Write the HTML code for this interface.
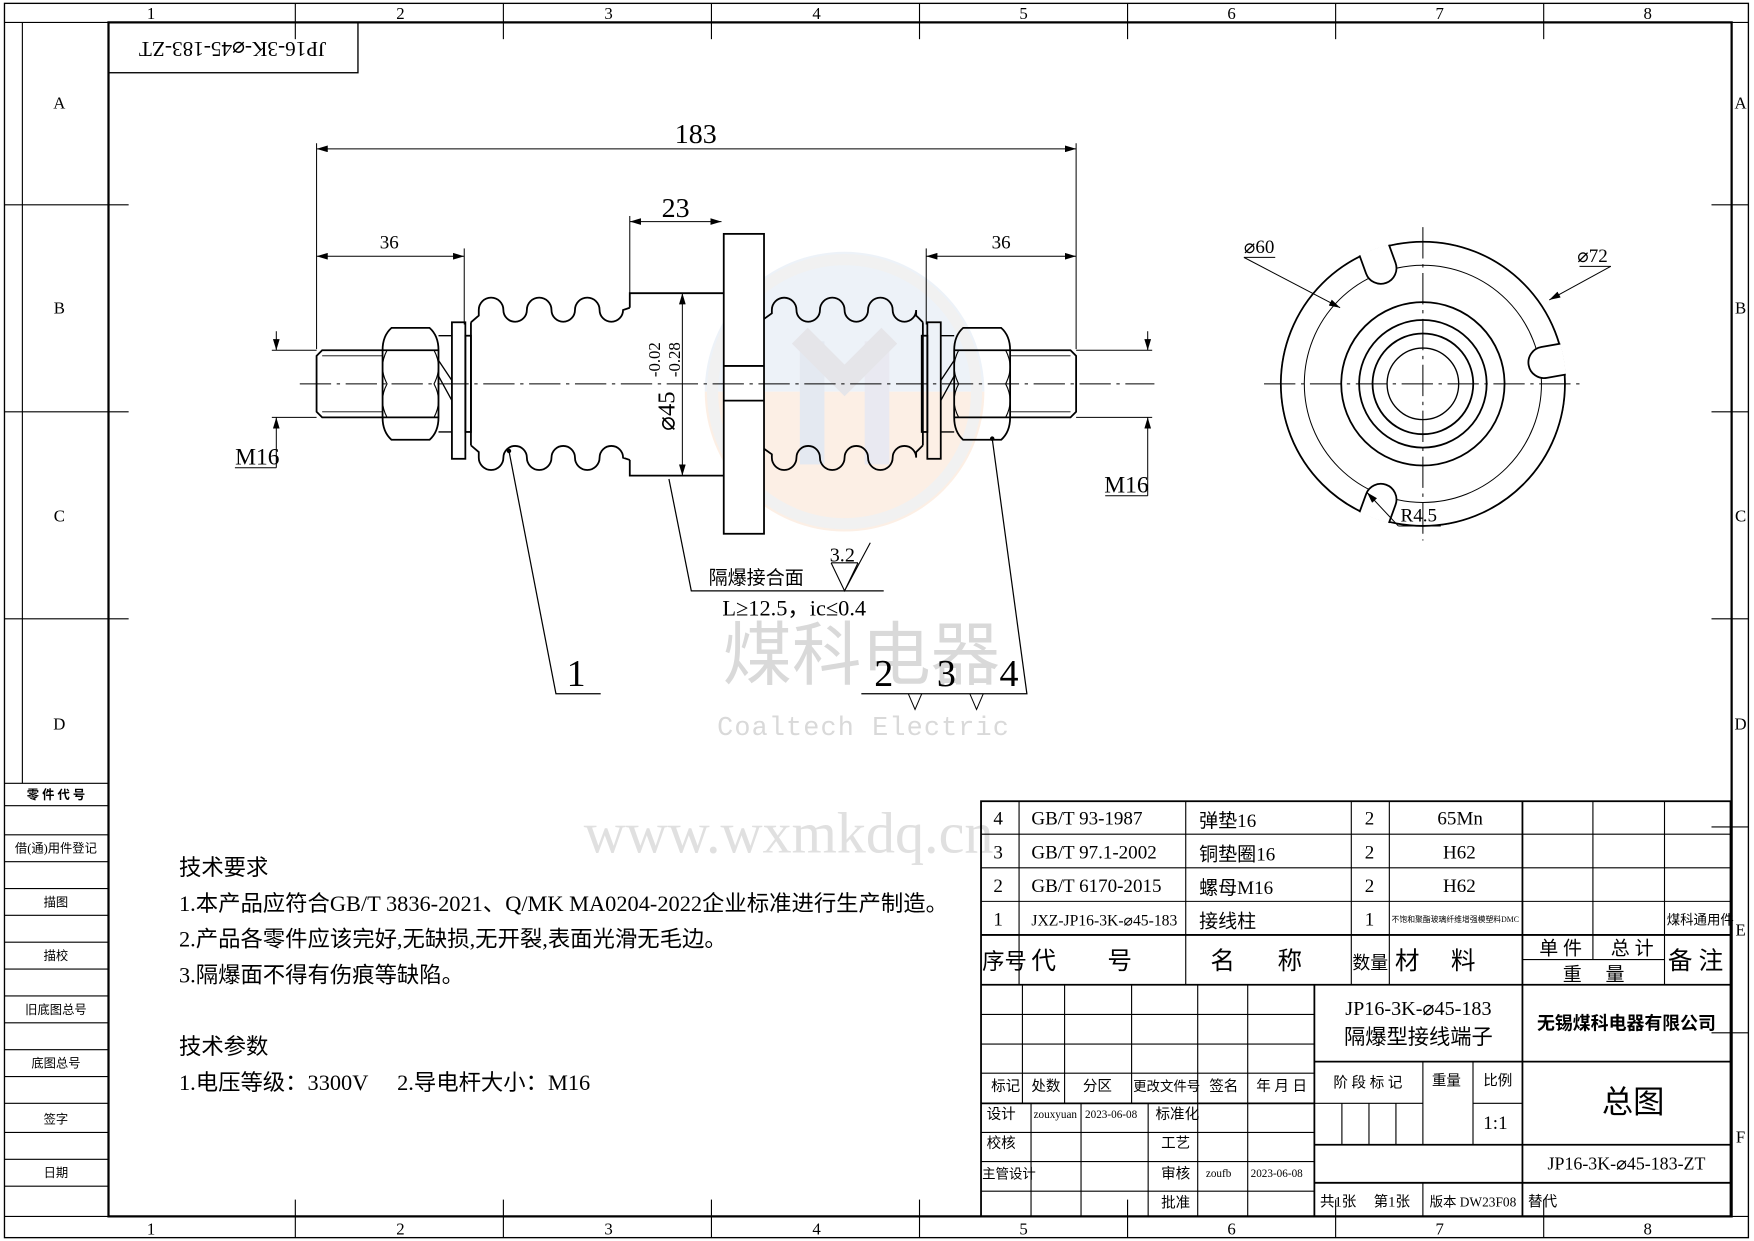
<!DOCTYPE html>
<html><head><meta charset="utf-8"><style>
html,body{margin:0;padding:0;background:#fff;}
svg{display:block;}
text{font-family:"Liberation Serif","Noto Sans CJK SC",serif;fill:#000;}
</style></head><body>
<svg width="1754" height="1241" viewBox="0 0 1568 1109" preserveAspectRatio="none" xmlns="http://www.w3.org/2000/svg">
<defs>
<marker id="a" viewBox="0 0 10 6" refX="10" refY="3" markerWidth="10" markerHeight="6" orient="auto-start-reverse" markerUnits="userSpaceOnUse"><path d="M0,0 L10,3 L0,6 z" fill="#000"/></marker>
<clipPath id="outer"><circle cx="1272" cy="343" r="128"/></clipPath>
</defs>
<rect width="1568" height="1109" fill="#fff"/>

<!-- watermark -->
<g opacity="0.55">
<path d="M630,350 A125,125 0 0 1 880,350 Z" fill="#dfe8f3"/>
<path d="M630,350 A125,125 0 0 0 880,350 Z" fill="#fbe3d0"/>
<circle cx="755" cy="350" r="118" fill="none" stroke="#e6e6e6" stroke-width="10"/>
<rect x="715" y="305" width="22" height="110" fill="#cfd8e6"/>
<rect x="773" y="305" width="22" height="110" fill="#d8d8e6"/>
<path d="M715,300 L755,340 L795,300" fill="none" stroke="#d0d0d8" stroke-width="20"/>
</g>
<text x="770" y="607" font-size="62" text-anchor="middle" style="fill:#d9d9d9;font-family:'Noto Sans CJK SC',sans-serif">煤科电器</text>
<text x="772" y="657" font-size="24" text-anchor="middle" letter-spacing="1" style="fill:#d9d9d9;font-family:'Liberation Mono',monospace">Coaltech Electric</text>
<text x="705" y="762" font-size="52" text-anchor="middle" style="fill:#e0e0e0">www.wxmkdq.cn</text>

<!-- frame -->
<g stroke="#000" fill="none">
<rect x="4" y="3" width="1559" height="1103" stroke-width="1.2"/>
<rect x="97" y="20" width="1451" height="1067" stroke-width="2"/>
<line x1="4" y1="20" x2="97" y2="20"/><line x1="1548" y1="20" x2="1563" y2="20"/>
<line x1="4" y1="1087" x2="97" y2="1087"/><line x1="1548" y1="1087" x2="1563" y2="1087"/>
<g stroke-width="1">
<line x1="264" y1="3" x2="264" y2="35"/><line x1="450" y1="3" x2="450" y2="35"/><line x1="636" y1="3" x2="636" y2="35"/><line x1="822" y1="3" x2="822" y2="35"/><line x1="1008" y1="3" x2="1008" y2="35"/><line x1="1194" y1="3" x2="1194" y2="35"/><line x1="1380" y1="3" x2="1380" y2="35"/>
<line x1="264" y1="1072" x2="264" y2="1106"/><line x1="450" y1="1072" x2="450" y2="1106"/><line x1="636" y1="1072" x2="636" y2="1106"/><line x1="822" y1="1072" x2="822" y2="1106"/><line x1="1008" y1="1072" x2="1008" y2="1106"/><line x1="1194" y1="1072" x2="1194" y2="1106"/><line x1="1380" y1="1072" x2="1380" y2="1106"/>
<line x1="4" y1="183" x2="115" y2="183"/><line x1="4" y1="368" x2="115" y2="368"/><line x1="4" y1="553" x2="115" y2="553"/>
<line x1="1530" y1="183" x2="1563" y2="183"/><line x1="1530" y1="368" x2="1563" y2="368"/><line x1="1530" y1="553" x2="1563" y2="553"/><line x1="1530" y1="739" x2="1563" y2="739"/><line x1="1530" y1="923" x2="1563" y2="923"/>
<line x1="20" y1="20" x2="20" y2="700"/>
</g>
<g stroke-width="1">
<line x1="4" y1="700" x2="97" y2="700"/><line x1="4" y1="720" x2="97" y2="720"/><line x1="4" y1="746" x2="97" y2="746"/><line x1="4" y1="770" x2="97" y2="770"/><line x1="4" y1="794" x2="97" y2="794"/><line x1="4" y1="818" x2="97" y2="818"/><line x1="4" y1="842" x2="97" y2="842"/><line x1="4" y1="866" x2="97" y2="866"/><line x1="4" y1="890" x2="97" y2="890"/><line x1="4" y1="914" x2="97" y2="914"/><line x1="4" y1="938" x2="97" y2="938"/><line x1="4" y1="962" x2="97" y2="962"/><line x1="4" y1="986" x2="97" y2="986"/><line x1="4" y1="1012" x2="97" y2="1012"/><line x1="4" y1="1036" x2="97" y2="1036"/><line x1="4" y1="1060" x2="97" y2="1060"/>
</g>
<rect x="97" y="20" width="223" height="45" stroke-width="1.2"/>
</g>
<g font-size="15" text-anchor="middle">
<text x="135" y="17">1</text><text x="358" y="17">2</text><text x="544" y="17">3</text><text x="730" y="17">4</text><text x="915" y="17">5</text><text x="1101" y="17">6</text><text x="1287" y="17">7</text><text x="1473" y="17">8</text>
<text x="135" y="1103">1</text><text x="358" y="1103">2</text><text x="544" y="1103">3</text><text x="730" y="1103">4</text><text x="915" y="1103">5</text><text x="1101" y="1103">6</text><text x="1287" y="1103">7</text><text x="1473" y="1103">8</text>
<text x="53" y="97">A</text><text x="53" y="280">B</text><text x="53" y="466">C</text><text x="53" y="652">D</text>
<text x="1556" y="97">A</text><text x="1556" y="280">B</text><text x="1556" y="466">C</text><text x="1556" y="652">D</text><text x="1556" y="836">E</text><text x="1556" y="1021">F</text>
</g>
<g font-size="11" text-anchor="middle" style="font-family:'Noto Sans CJK SC',sans-serif">
<text x="50" y="714" font-weight="bold">零 件 代 号</text>
<text x="50" y="762">借(通)用件登记</text>
<text x="50" y="810">描图</text>
<text x="50" y="858">描校</text>
<text x="50" y="906">旧底图总号</text>
<text x="50" y="954">底图总号</text>
<text x="50" y="1004">签字</text>
<text x="50" y="1052">日期</text>
</g>
<text transform="translate(208,42) rotate(180)" font-size="19" text-anchor="middle" dominant-baseline="middle">JP16-3K-⌀45-183-ZT</text>

<!-- main drawing -->
<g stroke="#000" fill="none" stroke-width="1.6">
<rect x="647" y="209" width="36" height="268" fill="#fff"/>
<line x1="647" y1="327" x2="683" y2="327"/><line x1="647" y1="358" x2="683" y2="358"/>
<path d="M647,262 L563,262 L563,275"/>
<path d="M647,425 L563,425 L563,411"/>
<path d="M421,288 L428,282 L428,277 A11,11 0 0 1 450,277 A10.5,10.5 0 0 0 471,277 A11,11 0 0 1 493,277 A10.5,10.5 0 0 0 514,277 A11,11 0 0 1 536,277 A10.5,10.5 0 0 0 557,277 L563,275"/>
<path transform="matrix(1,0,0,-1,0,686)" d="M421,288 L428,282 L428,277 A11,11 0 0 1 450,277 A10.5,10.5 0 0 0 471,277 A11,11 0 0 1 493,277 A10.5,10.5 0 0 0 514,277 A11,11 0 0 1 536,277 A10.5,10.5 0 0 0 557,277 L563,275"/>
<path d="M683,285 L690,280 L690,277 A11,11 0 0 1 712,277 A10.5,10.5 0 0 0 733,277 A11,11 0 0 1 755,277 A10.5,10.5 0 0 0 776,277 A11,11 0 0 1 798,277 A10.5,10.5 0 0 0 819,277 L819,282 L825,288"/>
<path transform="matrix(1,0,0,-1,0,686)" d="M683,285 L690,280 L690,277 A11,11 0 0 1 712,277 A10.5,10.5 0 0 0 733,277 A11,11 0 0 1 755,277 A10.5,10.5 0 0 0 776,277 A11,11 0 0 1 798,277 A10.5,10.5 0 0 0 819,277 L819,282 L825,288"/>
<line x1="421" y1="288" x2="421" y2="398"/>
<line x1="825" y1="288" x2="825" y2="398"/>
<g>
<rect x="416" y="300" width="5" height="86"/>
<rect x="404" y="288" width="12" height="122"/>
<path d="M392,300 L404,300 M392,386 L404,386 M392,322 L404,340 M392,336 L404,358" stroke-width="1.2"/>
<path d="M350,293 L384,293 Q392,300 392,313 L392,373 Q392,386 384,393 L350,393 Q342,386 342,373 L342,313 Q342,300 350,293 Z"/>
<line x1="342" y1="313" x2="392" y2="313"/><line x1="342" y1="373" x2="392" y2="373"/>
<path d="M346,313 Q338,328 346,343 Q338,358 346,373" stroke-width="1"/>
<path d="M388,313 Q396,328 388,343 Q396,358 388,373" stroke-width="1"/>
<path d="M342,313 L288,313 L283,318 L283,368 L288,373 L342,373"/>
<line x1="288" y1="318" x2="342" y2="318" stroke-width="0.8"/><line x1="288" y1="368" x2="342" y2="368" stroke-width="0.8"/>
</g>
<g transform="matrix(-1,0,0,1,1245,0)">
<rect x="416" y="300" width="5" height="86"/>
<rect x="404" y="288" width="12" height="122"/>
<path d="M392,300 L404,300 M392,386 L404,386 M392,322 L404,340 M392,336 L404,358" stroke-width="1.2"/>
<path d="M350,293 L384,293 Q392,300 392,313 L392,373 Q392,386 384,393 L350,393 Q342,386 342,373 L342,313 Q342,300 350,293 Z"/>
<line x1="342" y1="313" x2="392" y2="313"/><line x1="342" y1="373" x2="392" y2="373"/>
<path d="M346,313 Q338,328 346,343 Q338,358 346,373" stroke-width="1"/>
<path d="M388,313 Q396,328 388,343 Q396,358 388,373" stroke-width="1"/>
<path d="M342,313 L288,313 L283,318 L283,368 L288,373 L342,373"/>
<line x1="288" y1="318" x2="342" y2="318" stroke-width="0.8"/><line x1="288" y1="368" x2="342" y2="368" stroke-width="0.8"/>
</g>
</g>
<g stroke="#000" fill="none" stroke-width="0.9">
<line x1="268" y1="343" x2="1032" y2="343" stroke-dasharray="28,5,3,5"/>
<line x1="283" y1="128" x2="283" y2="312"/><line x1="962" y1="128" x2="962" y2="312"/>
<line x1="283" y1="133" x2="962" y2="133" marker-start="url(#a)" marker-end="url(#a)"/>
<line x1="415" y1="222" x2="415" y2="290"/><line x1="828" y1="222" x2="828" y2="290"/>
<line x1="283" y1="229" x2="415" y2="229" marker-start="url(#a)" marker-end="url(#a)"/>
<line x1="828" y1="229" x2="962" y2="229" marker-start="url(#a)" marker-end="url(#a)"/>
<line x1="563" y1="193" x2="563" y2="262"/>
<line x1="563" y1="198" x2="645" y2="198" marker-start="url(#a)" marker-end="url(#a)"/>
<line x1="610" y1="262" x2="610" y2="425" marker-start="url(#a)" marker-end="url(#a)"/>
<line x1="243" y1="313" x2="283" y2="313"/><line x1="243" y1="373" x2="283" y2="373"/>
<line x1="247" y1="296" x2="247" y2="313" marker-end="url(#a)"/><line x1="247" y1="418" x2="247" y2="373" marker-end="url(#a)"/>
<line x1="210" y1="418" x2="247" y2="418"/>
<line x1="962" y1="313" x2="1030" y2="313"/><line x1="962" y1="373" x2="1030" y2="373"/>
<line x1="1026" y1="296" x2="1026" y2="313" marker-end="url(#a)"/><line x1="1026" y1="443" x2="1026" y2="373" marker-end="url(#a)"/>
<line x1="988" y1="443" x2="1026" y2="443"/>
<path d="M455,403 L497,620 L537,620" stroke-width="1.1"/>
<path d="M598,428 L618,528 L790,528" stroke-width="1.1"/>
<path d="M887,392 L918,620 L770,620" stroke-width="1.1"/>
<path d="M812,620 L818,634 L824,620 M867,620 L873,634 L879,620"/>
<path d="M743,503 L755,528 L767,503 M755,528 L778,485 M743,503 L767,503" stroke-width="1"/>
</g>
<circle cx="455" cy="403" r="2" fill="#000"/><circle cx="887" cy="392" r="2" fill="#000"/>
<g font-size="25" text-anchor="middle">
<text x="622" y="128">183</text>
<text x="604" y="194">23</text>
<text x="348" y="222" font-size="17">36</text>
<text x="895" y="222" font-size="17">36</text>
<text x="230" y="415" font-size="21">M16</text>
<text x="1007" y="440" font-size="21">M16</text>
<text x="515" y="613" font-size="34">1</text>
<text x="790" y="613" font-size="34">2</text>
<text x="846" y="613" font-size="34">3</text>
<text x="902" y="613" font-size="34">4</text>
<text x="753" y="502" font-size="18">3.2</text>
<text x="676" y="522" font-size="17">隔爆接合面</text>
<text x="710" y="550" font-size="20">L≥12.5，ic≤0.4</text>
</g>
<text transform="translate(603,385) rotate(-90)" font-size="22">⌀45</text>
<text transform="translate(590,337) rotate(-90)" font-size="15">-0.02</text>
<text transform="translate(608,337) rotate(-90)" font-size="15">-0.28</text>

<!-- side view -->
<g stroke="#000" fill="none" stroke-width="1.6">
<circle cx="1272" cy="343" r="106" stroke-width="0.9"/>
<g clip-path="url(#outer)">
<circle cx="1272" cy="343" r="127"/>
<g transform="rotate(-10 1272 343)"><path d="M1410,329 L1382,329 A14,14 0 0 0 1382,357 L1410,357 Z" fill="#fff"/></g>
<g transform="rotate(-110 1272 343)"><path d="M1410,329 L1382,329 A14,14 0 0 0 1382,357 L1410,357 Z" fill="#fff"/></g>
<g transform="rotate(110 1272 343)"><path d="M1410,329 L1382,329 A14,14 0 0 0 1382,357 L1410,357 Z" fill="#fff"/></g>
</g>
<circle cx="1272" cy="343" r="73"/>
<circle cx="1272" cy="343" r="57"/>
<circle cx="1272" cy="343" r="45"/>
<circle cx="1272" cy="343" r="32" stroke-width="1.2"/>
</g>
<g stroke="#000" fill="none" stroke-width="0.9">
<line x1="1130" y1="343" x2="1414" y2="343" stroke-dasharray="28,5,3,5"/>
<line x1="1272" y1="203" x2="1272" y2="483" stroke-dasharray="28,5,3,5"/>
<line x1="1112" y1="230" x2="1198" y2="275" marker-end="url(#a)"/>
<line x1="1112" y1="230" x2="1140" y2="230"/>
<line x1="1440" y1="238" x2="1385" y2="268" marker-end="url(#a)"/>
<line x1="1412" y1="238" x2="1440" y2="238"/>
<line x1="1250" y1="470" x2="1222" y2="440" marker-end="url(#a)"/>
<line x1="1250" y1="470" x2="1288" y2="470"/>
</g>
<g font-size="17">
<text x="1112" y="226">⌀60</text>
<text x="1410" y="234">⌀72</text>
<text x="1252" y="466">R4.5</text>
</g>

<!-- technical notes -->
<g font-size="20">
<text x="160" y="782">技术要求</text>
<text x="160" y="814">1.本产品应符合GB/T 3836-2021、Q/MK MA0204-2022企业标准进行生产制造。</text>
<text x="160" y="846">2.产品各零件应该完好,无缺损,无开裂,表面光滑无毛边。</text>
<text x="160" y="878">3.隔爆面不得有伤痕等缺陷。</text>
<text x="160" y="942">技术参数</text>
<text x="160" y="974">1.电压等级：3300V</text>
<text x="355" y="974">2.导电杆大小：M16</text>
</g>

<!-- title block -->
<g stroke="#000" fill="none" stroke-width="1">
<rect x="877" y="716" width="670" height="371" stroke-width="1.6"/>
<line x1="877" y1="745.5" x2="1547" y2="745.5"/>
<line x1="877" y1="775.5" x2="1547" y2="775.5"/>
<line x1="877" y1="805.5" x2="1547" y2="805.5"/>
<line x1="877" y1="835.5" x2="1547" y2="835.5" stroke-width="1.6"/>
<line x1="877" y1="880" x2="1547" y2="880" stroke-width="1.6"/>
<line x1="911" y1="716" x2="911" y2="880"/>
<line x1="1060" y1="716" x2="1060" y2="880"/>
<line x1="1208" y1="716" x2="1208" y2="880"/>
<line x1="1242" y1="716" x2="1242" y2="880"/>
<line x1="1361" y1="716" x2="1361" y2="1087" stroke-width="1.6"/>
<line x1="1424" y1="716" x2="1424" y2="857.5"/>
<line x1="1488" y1="716" x2="1488" y2="880"/>
<line x1="1361" y1="857.5" x2="1488" y2="857.5"/>
<line x1="877" y1="906.5" x2="1175" y2="906.5"/>
<line x1="877" y1="933" x2="1175" y2="933"/>
<line x1="877" y1="959" x2="1175" y2="959"/>
<line x1="877" y1="986" x2="1175" y2="986" stroke-width="1.6"/>
<line x1="877" y1="1012" x2="1175" y2="1012"/>
<line x1="877" y1="1038" x2="1175" y2="1038"/>
<line x1="877" y1="1064.5" x2="1175" y2="1064.5"/>
<line x1="914" y1="880" x2="914" y2="986"/>
<line x1="951.7" y1="880" x2="951.7" y2="986"/>
<line x1="1011.6" y1="880" x2="1011.6" y2="986"/>
<line x1="1070.7" y1="880" x2="1070.7" y2="1087"/>
<line x1="1115.4" y1="880" x2="1115.4" y2="1087"/>
<line x1="921.7" y1="986" x2="921.7" y2="1087"/>
<line x1="966.4" y1="986" x2="966.4" y2="1087"/>
<line x1="1026.4" y1="986" x2="1026.4" y2="1087"/>
<line x1="1175" y1="880" x2="1175" y2="1087" stroke-width="1.6"/>
<line x1="1175" y1="948.7" x2="1547" y2="948.7" stroke-width="1.6"/>
<line x1="1175" y1="986" x2="1272" y2="986"/>
<line x1="1316.8" y1="986" x2="1361" y2="986"/>
<line x1="1199.6" y1="986" x2="1199.6" y2="1023"/>
<line x1="1223.8" y1="986" x2="1223.8" y2="1023"/>
<line x1="1247.9" y1="986" x2="1247.9" y2="1023"/>
<line x1="1272" y1="948.7" x2="1272" y2="1023"/>
<line x1="1316.8" y1="948.7" x2="1316.8" y2="1023"/>
<line x1="1175" y1="1023" x2="1547" y2="1023" stroke-width="1.6"/>
<line x1="1175" y1="1057" x2="1547" y2="1057" stroke-width="1.6"/>
<line x1="1272" y1="1057" x2="1272" y2="1087"/>
</g>
<g font-size="17">
<text x="888" y="737">4</text><text x="922" y="737">GB/T 93-1987</text><text x="1072" y="739">弹垫16</text><text x="1220" y="737">2</text><text x="1285" y="737">65Mn</text>
<text x="888" y="767">3</text><text x="922" y="767">GB/T 97.1-2002</text><text x="1072" y="769">铜垫圈16</text><text x="1220" y="767">2</text><text x="1290" y="767">H62</text>
<text x="888" y="797">2</text><text x="922" y="797">GB/T 6170-2015</text><text x="1072" y="799">螺母M16</text><text x="1220" y="797">2</text><text x="1290" y="797">H62</text>
<text x="888" y="827">1</text><text x="922" y="827" font-size="14">JXZ-JP16-3K-⌀45-183</text><text x="1072" y="829">接线柱</text><text x="1220" y="827">1</text>
<text x="1244" y="824" font-size="7">不饱和聚酯玻璃纤维增强模塑料DMC</text>
<text x="1490" y="826" font-size="12">煤科通用件</text>
<text x="878" y="866" font-size="20">序号</text><text x="922" y="866" font-size="22">代</text><text x="990" y="866" font-size="22">号</text>
<text x="1082" y="866" font-size="22">名</text><text x="1142" y="866" font-size="22">称</text>
<text x="1209" y="866" font-size="16">数量</text><text x="1247" y="866" font-size="22">材</text><text x="1297" y="866" font-size="22">料</text>
<text x="1376" y="853">单 件</text><text x="1440" y="853">总 计</text><text x="1397" y="876">重　 量</text>
<text x="1491" y="866" font-size="22">备 注</text>
<text x="1268" y="907" text-anchor="middle" font-size="18">JP16-3K-⌀45-183</text>
<text x="1268" y="933" text-anchor="middle" font-size="19">隔爆型接线端子</text>
<text x="1454" y="920" text-anchor="middle" font-size="16" font-weight="bold" style="font-family:'Noto Sans CJK SC',sans-serif">无锡煤科电器有限公司</text>
<g font-size="13">
<text x="886" y="975">标记</text><text x="922" y="975">处数</text><text x="968" y="975">分区</text><text x="1013" y="975" font-size="12">更改文件号</text><text x="1081" y="975">签名</text><text x="1123" y="975">年 月 日</text>
<text x="882" y="1000">设计</text><text x="924" y="999" font-size="10">zouxyuan</text><text x="970" y="999" font-size="10">2023-06-08</text><text x="1033" y="1000">标准化</text>
<text x="882" y="1026">校核</text><text x="1038" y="1026">工艺</text>
<text x="878" y="1053" font-size="12">主管设计</text><text x="1038" y="1053">审核</text><text x="1078" y="1052" font-size="10">zoufb</text><text x="1118" y="1052" font-size="10">2023-06-08</text>
<text x="1038" y="1079">批准</text>
<text x="1192" y="972">阶 段 标 记</text><text x="1280" y="970">重量</text><text x="1326" y="970">比例</text>
<text x="1180" y="1078">共1张</text><text x="1228" y="1078">第1张</text><text x="1278" y="1078" font-size="12">版本 DW23F08</text><text x="1366" y="1078">替代</text>
</g>
<text x="1326" y="1009" font-size="17">1:1</text>
<text x="1460" y="994" text-anchor="middle" font-size="28">总图</text>
<text x="1454" y="1045" text-anchor="middle" font-size="16">JP16-3K-⌀45-183-ZT</text>
</svg>
</body></html>
